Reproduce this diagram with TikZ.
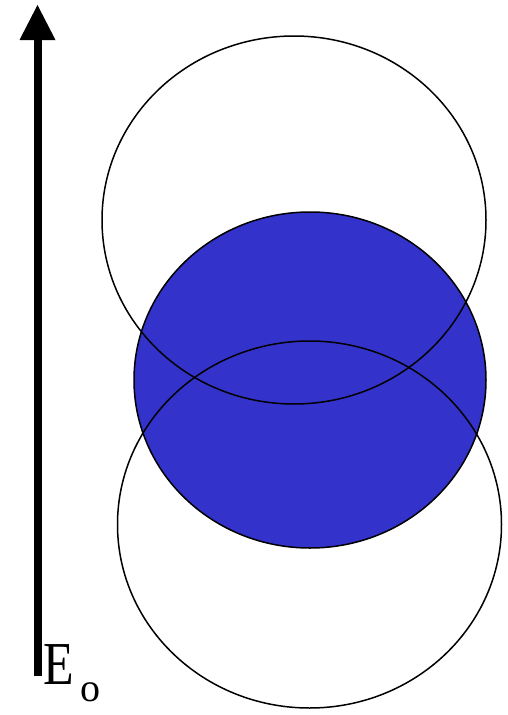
\documentclass[tikz,border=0pt]{standalone}
\usepackage{fontspec}
\setmainfont{Liberation Serif}
\usetikzlibrary{arrows.meta}
\definecolor{dipoleblue}{RGB}{51,51,204}

\begin{document}
\begin{tikzpicture}[
    x=1pt, y=-1pt,
    ring/.style={draw=black, line width=1.5pt},
    field/.style={line width=8pt, -{Triangle[width=36pt, length=35pt, line width=0pt]}}
]
\useasboundingbox (0,0) rectangle (507,715);
\coordinate (upper) at (294,220);
\coordinate (charge) at (310,380);
\coordinate (lower) at (309.5,524.5);
\coordinate (tail) at (37.5,676);
\coordinate (head) at (37.5,5);

\filldraw[ring, fill=dipoleblue] (charge) ellipse [x radius=176, y radius=168];
\draw[ring] (upper) ellipse [x radius=192, y radius=184];
\draw[ring] (lower) ellipse [x radius=192, y radius=183.5];

\draw[field] (tail) -- (head);
\node[anchor=base west, inner sep=0pt] (efield) at (43,684)
    {\scalebox{0.82}[1]{\fontsize{61}{61}\selectfont E}\raisebox{-17pt}{\fontsize{40}{40}\selectfont\hspace{7pt}o}};
\end{tikzpicture}
\end{document}
